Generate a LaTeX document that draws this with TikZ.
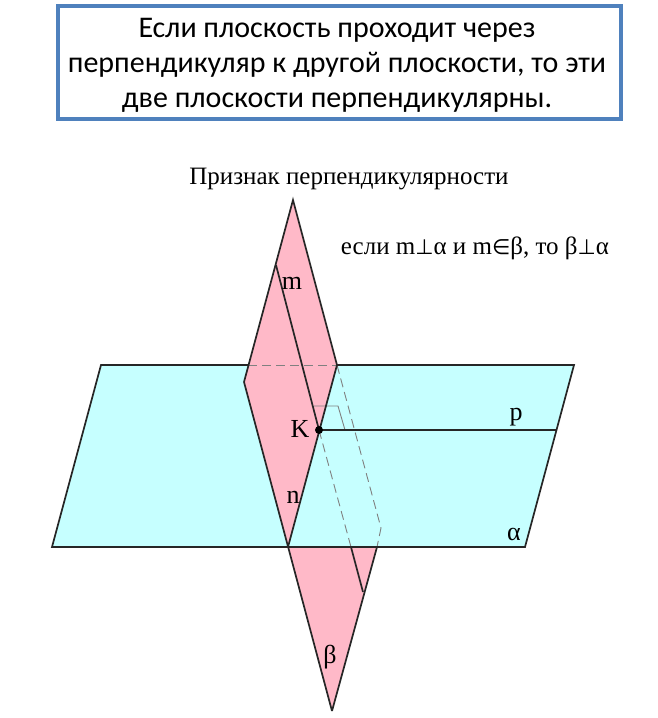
\documentclass[tikz,border=0pt]{standalone}
\usepackage{fontspec}
\setmainfont{Liberation Serif}
\newfontfamily\boxfont{Carlito}
\newfontfamily\symfont{DejaVu Sans}
\usepackage{xcolor}
\usetikzlibrary{positioning}
\definecolor{planeblue}{HTML}{C6FFFF}
\definecolor{planepink}{HTML}{FFB9C8}
\definecolor{framblue}{HTML}{4F81BD}
\begin{document}
\begin{tikzpicture}[
  x=1pt, y=-1pt,
  edge/.style={draw=black!85, line width=1.7pt, line join=miter},
  hidden/.style={draw=black!50, line width=0.9pt, dash pattern=on 9pt off 5pt},
  letter/.style={font=\fontsize{26}{26}\selectfont, inner sep=0pt},
  caption/.style={font=\fontsize{25}{25}\selectfont, inner sep=0pt}
  ]
  \useasboundingbox (0,0) rectangle (658,718);

  % Plane alpha
  \coordinate (a1) at (101,365);
  \coordinate (a2) at (574,365);
  \coordinate (a3) at (525,547);
  \coordinate (a4) at (52,547);
  % Plane beta
  \coordinate (b1) at (293,200);
  \coordinate (b2) at (337,365);
  \coordinate (b3) at (381,528);
  \coordinate (b4) at (377,547);
  \coordinate (b5) at (332,711);
  \coordinate (b6) at (288,547);
  \coordinate (b7) at (244,382);
  \coordinate (b8) at (248,365);
  % Lines
  \coordinate (m1) at (276,265);
  \coordinate (K) at (319,430);
  \coordinate (m2) at (351,547);
  \coordinate (m3) at (363,592);
  \coordinate (p1) at (556,430);
  % Right angle
  \coordinate (r1) at (314,406);
  \coordinate (r2) at (338,406);
  \coordinate (r3) at (345,430);

  % Fills
  \fill[planeblue] (a1) -- (a2) -- (a3) -- (a4) -- cycle;
  \fill[planepink] (b1) -- (b2) -- (b6) -- (b7) -- cycle;
  \fill[planepink] (b6) -- (b4) -- (b5) -- cycle;

  % Hidden parts
  \draw[hidden] (b8) -- (b2);
  \draw[hidden] (b2) -- (b3) -- (b4);
  \draw[hidden] (K) -- (m2);
  \draw[draw=black!50, line width=0.9pt] (r1) -- (r2) -- (r3);

  % Edges
  \draw[edge] (b8) -- (a1) -- (a4) -- (a3) -- (a2) -- (b2);
  \draw[edge] (b5) -- (b7) -- (b1) -- (b2) -- (b6);
  \draw[edge] (b4) -- (b5);
  \draw[edge] (m1) -- (K) -- (p1);
  \draw[edge] (m2) -- (m3);
  \fill (K) circle (4pt);

  % Labels
  \node[letter] (mlabel) at (292,283) {m};
  \node[letter] (klabel) at (300,429) {K};
  \node[letter] (nlabel) at (293,497) {n};
  \node[letter] (plabel) at (516,417) {p};
  \node[letter] (alphalabel) at (514,534) {α};
  \node[letter] (betalabel) at (330,657) {β};

  % Texts
  \node[caption] (title) at (349,179) {Признак перпендикулярности};
  \node[caption] (rule) at (475,248) {если m{\symfont\fontsize{21}{21}\selectfont ⊥}α и m{\symfont\fontsize{21}{21}\selectfont ∈}β, то β{\symfont\fontsize{21}{21}\selectfont ⊥}α};

  % Frame
  \node[draw=framblue, line width=3.5pt, minimum width=563pt, minimum height=113pt, inner sep=0pt] (frame) at (339.5,62.5) {};
  \node[inner sep=0pt, align=center, font=\boxfont\fontsize{30}{35}\selectfont] (frametext) at (337,65.5)
    {Если плоскость проходит через\\перпендикуляр к другой плоскости, то эти\\две плоскости перпендикулярны.};
\end{tikzpicture}
\end{document}
